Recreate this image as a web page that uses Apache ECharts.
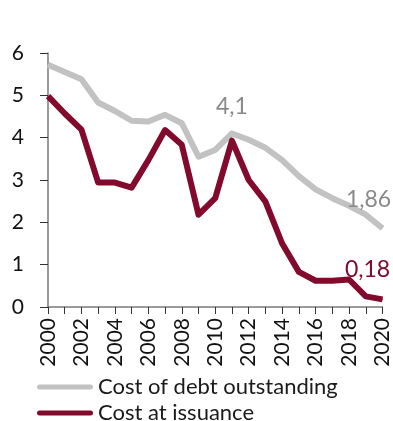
<!DOCTYPE html>
<html>
<head>
<meta charset="utf-8">
<script src="https://cdn.jsdelivr.net/npm/echarts@6/dist/echarts.min.js"></script>
<style>
html,body{margin:0;padding:0;background:#fff;}
#chart{width:393px;height:421px;}
</style>
</head>
<body>
<div id="chart"></div>
<script>
const years = ['2000','2001','2002','2003','2004','2005','2006','2007','2008','2009','2010','2011','2012','2013','2014','2015','2016','2017','2018','2019','2020'];
const costOutstanding = [5.72, 5.55, 5.38, 4.83, 4.63, 4.40, 4.38, 4.54, 4.34, 3.55, 3.71, 4.10, 3.95, 3.76, 3.47, 3.09, 2.78, 2.57, 2.39, 2.18, 1.86];
const costIssuance = [4.98, 4.57, 4.19, 2.94, 2.94, 2.82, 3.47, 4.18, 3.83, 2.18, 2.57, 3.93, 3.00, 2.49, 1.50, 0.83, 0.62, 0.62, 0.65, 0.25, 0.18];
const yTicks = [0, 1, 2, 3, 4, 5, 6];
const seriesNames = ['Cost of debt outstanding', 'Cost at issuance'];
const labelledOutstanding = [11, 20];
const labelledIssuance = [20];

const GRAY = '#c2c2c2';
const GRAY_TXT = '#8a8a8a';
const RED = '#820a2c';
const FONT = 'Lato, "Open Sans", sans-serif';
const CAPSULE = 'path://M2.5,0 H53.5 A2.5,2.5 0 0 1 53.5,5 H2.5 A2.5,2.5 0 0 1 2.5,0 Z';

function fmt(v){ return String(v).replace('.', ','); }

function buildData(values, labelled, color, offX, dist){
  return values.map((v, i) => {
    if (labelled.indexOf(i) === -1) return v;
    return {
      value: v,
      label: {
        show: true,
        position: 'top',
        distance: i === 20 ? dist : 15,
        offset: [i === 20 ? offX : 0, 0],
        formatter: p => fmt(p.value),
        color: color,
        fontSize: 23,
        fontFamily: FONT
      }
    };
  });
}

function legendItem(name, top){
  return {
    orient: 'vertical',
    left: 37,
    top: top,
    padding: 0,
    itemWidth: 56,
    itemHeight: 5,
    icon: CAPSULE,
    data: [name],
    textStyle: {fontSize: 22, fontFamily: FONT, color: '#1a1a1a'}
  };
}

const chart = echarts.init(document.getElementById('chart'), null, {renderer: 'canvas'});
chart.setOption({
  animation: false,
  backgroundColor: '#ffffff',
  grid: {left: 48, right: 10, top: 53, bottom: 114, containLabel: false},
  legend: [legendItem(seriesNames[0], 376), legendItem(seriesNames[1], 402)],
  xAxis: {
    type: 'category',
    data: years,
    boundaryGap: false,
    axisLine: {show: true, lineStyle: {color: '#7a7a7a', width: 1.5}},
    axisTick: {show: true, interval: 0, length: 7, lineStyle: {color: '#333', width: 1}},
    axisLabel: {interval: 1, rotate: 90, margin: 11, fontSize: 21, fontFamily: FONT, color: '#111'},
    splitLine: {show: false}
  },
  yAxis: {
    type: 'value',
    min: 0,
    max: 6,
    interval: 1,
    axisLine: {show: true, lineStyle: {color: '#7a7a7a', width: 1.5}},
    axisTick: {show: true, length: 8, lineStyle: {color: '#333', width: 1}},
    axisLabel: {margin: 24, fontSize: 21, fontFamily: FONT, color: '#111',
      formatter: v => yTicks.indexOf(v) >= 0 ? String(v) : ''},
    splitLine: {show: false}
  },
  series: [
    {
      name: seriesNames[0],
      type: 'line',
      data: buildData(costOutstanding, labelledOutstanding, GRAY_TXT, -14, 17),
      symbol: 'circle',
      symbolSize: 1,
      showSymbol: true,
      showAllSymbol: true,
      lineStyle: {color: GRAY, width: 6, join: 'round'},
      itemStyle: {color: GRAY},
      z: 2
    },
    {
      name: seriesNames[1],
      type: 'line',
      data: buildData(costIssuance, labelledIssuance, RED, -15, 18),
      symbol: 'circle',
      symbolSize: 1,
      showSymbol: true,
      showAllSymbol: true,
      lineStyle: {color: RED, width: 6, join: 'round'},
      itemStyle: {color: RED},
      z: 3
    }
  ]
});
</script>
</body>
</html>
